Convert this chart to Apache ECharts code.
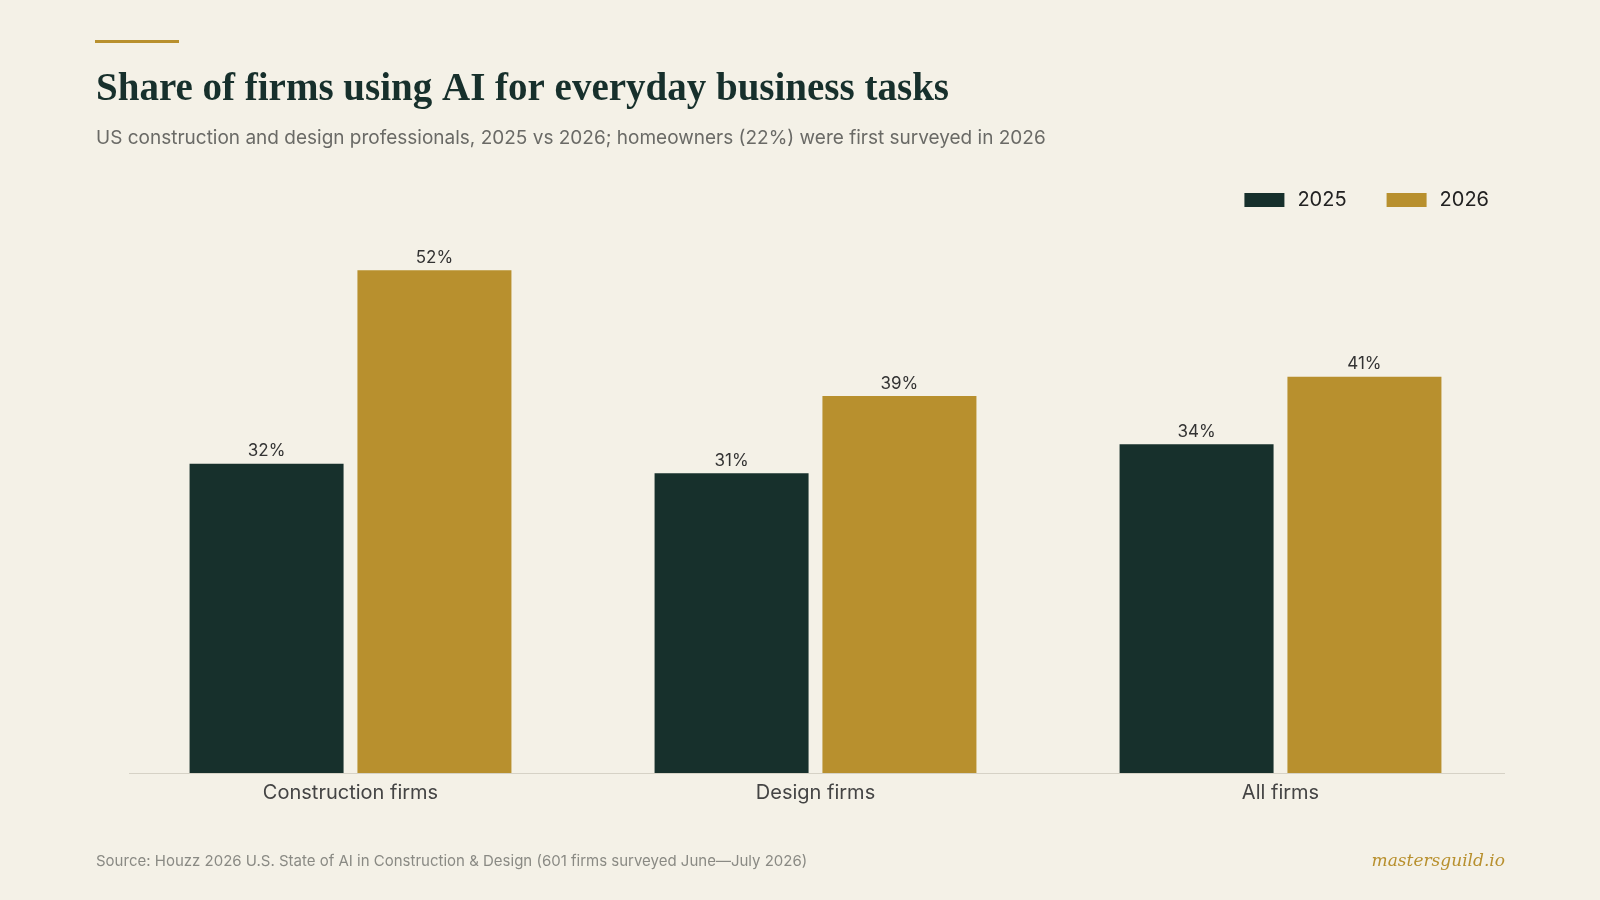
<!DOCTYPE html>
<html><head><meta charset="utf-8">
<script src="https://cdn.jsdelivr.net/npm/echarts@6/dist/echarts.min.js"></script>
<style>html,body{margin:0;padding:0;background:#f4f1e7;}#c{width:1600px;height:900px;}</style>
</head><body><div id="c"></div>
<script>
const categories = ["Construction firms", "Design firms", "All firms"];
const values2025 = [32, 31, 34];
const values2026 = [52, 39, 41];
const seriesNames = ["2025", "2026"];

const chart = echarts.init(document.getElementById('c'));
const lbl = {show:true, position:'top', formatter:'{c}%', color:'#333', fontFamily:'Inter', fontSize:17, distance:4};
chart.setOption({
  backgroundColor:'#f4f1e7',
  title:[
    {text:'Share of firms using AI for everyday business tasks', left:91, top:65,
     textStyle:{fontFamily:'Liberation Serif', fontWeight:'bold', fontSize:39, color:'#17302c'}},
    {text:'US construction and design professionals, 2025 vs 2026; homeowners (22%) were first surveyed in 2026', left:91, top:124,
     textStyle:{fontFamily:'Inter', fontWeight:'normal', fontSize:19, color:'#6a6a66'}},
    {text:'Source: Houzz 2026 U.S. State of AI in Construction & Design (601 firms surveyed June\u2014July 2026)', left:91, top:849,
     textStyle:{fontFamily:'Inter', fontWeight:'normal', fontSize:15, color:'#8a8a84'}},
    {text:'mastersguild.io', right:90, top:848,
     textStyle:{fontFamily:'DejaVu Serif', fontStyle:'italic', fontWeight:'normal', fontSize:17, color:'#b8902e'}}
  ],
  graphic:[
    {type:'rect', shape:{x:95,y:40,width:84,height:3}, style:{fill:'#b8902e'}},
    {type:'line', shape:{x1:129,y1:773.5,x2:1505,y2:773.5}, style:{stroke:'#d6d2c6', lineWidth:1}}
  ],
  legend:{data:seriesNames, right:106, top:185, itemWidth:40, itemHeight:14, itemGap:40, icon:'rect',
    textStyle:{fontFamily:'Inter', fontSize:20, color:'#222', padding:[0,0,0,8]}},
  grid:{left:118, right:87, top:193, bottom:127},
  xAxis:{type:'category', data:categories,
    axisLine:{show:false}, axisTick:{show:false},
    axisLabel:{fontFamily:'Inter', fontSize:20, color:'#444', margin:10}},
  yAxis:{type:'value', min:0, max:60, show:false, splitLine:{show:false}},
  series:[
    {name:seriesNames[0], type:'bar', data:values2025, barWidth:154, barGap:'9%',
     itemStyle:{color:'#17302c'}, label:lbl},
    {name:seriesNames[1], type:'bar', data:values2026, barWidth:154,
     itemStyle:{color:'#b8902e'}, label:lbl}
  ]
});
</script></body></html>
